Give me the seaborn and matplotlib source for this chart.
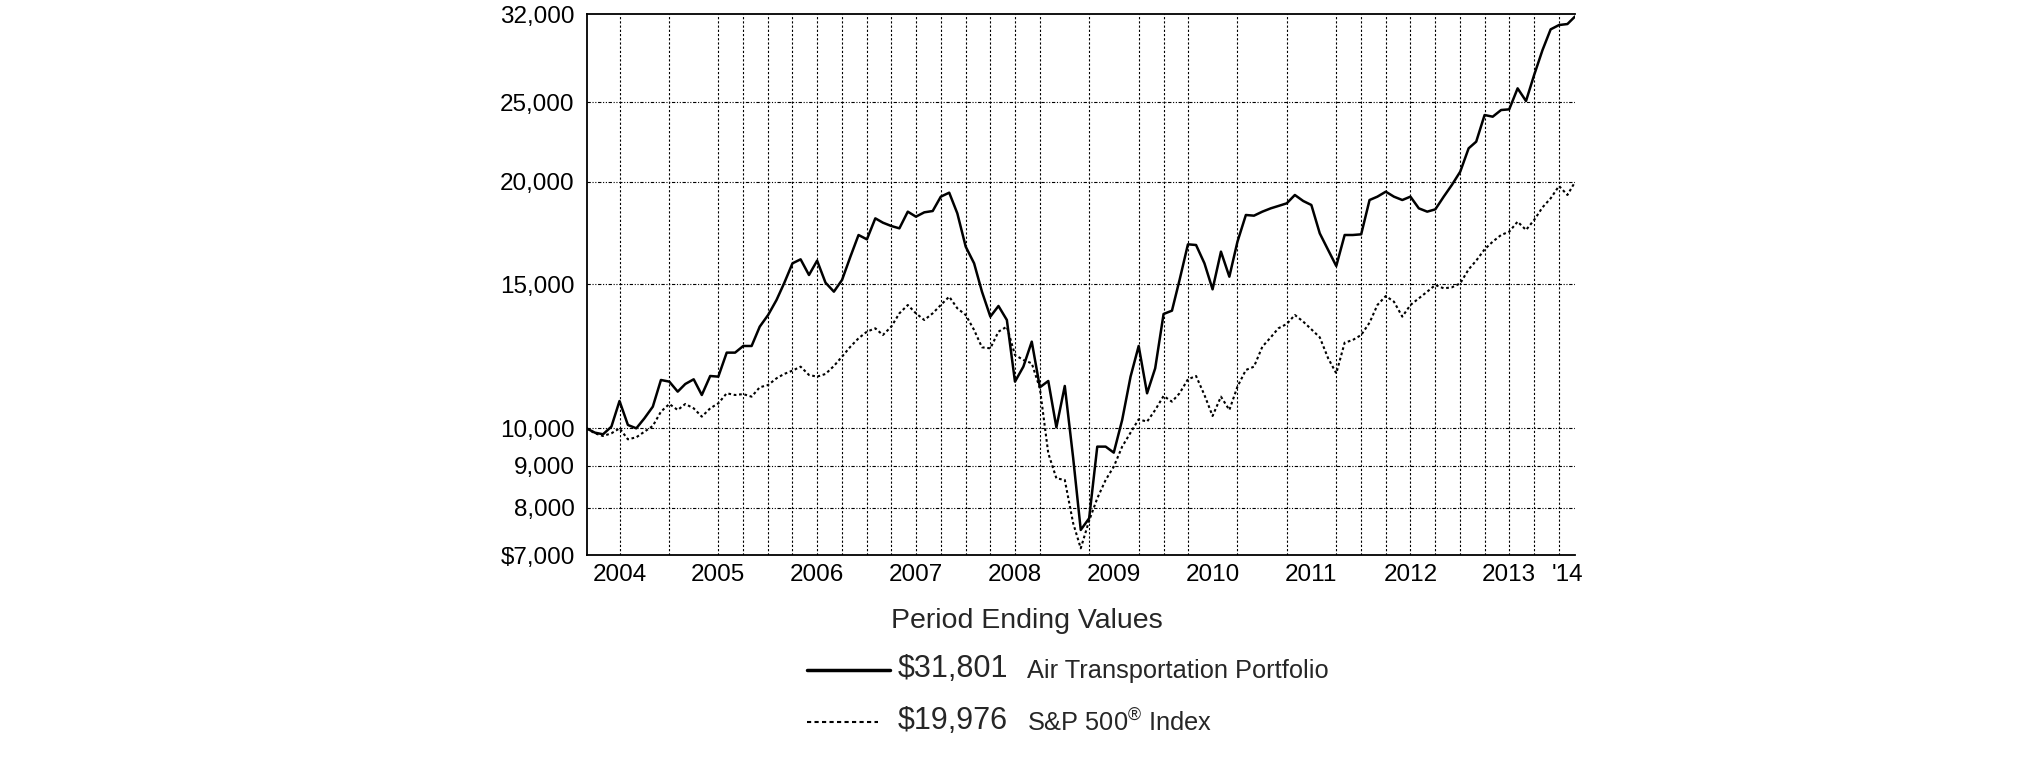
import pandas as pd
import matplotlib.pyplot as plt
from matplotlib.lines import Line2D
from matplotlib.ticker import FixedLocator, NullLocator
import seaborn as sns

# month-end values, Feb 2004 .. Feb 2014 (growth of $10,000)
months = pd.date_range("2004-02-29", periods=121, freq="ME")

portfolio = [
    10000, 9880, 9834, 10048, 10798, 10095, 10000, 10286, 10628, 11455, 11402,
    11086, 11327, 11477, 10982, 11584, 11563, 12370, 12370, 12603, 12603, 13306, 13750,
    14341, 15028, 15897, 16077, 15385, 16017, 15057, 14681, 15170, 16198, 17214, 17005,
    18039, 17821, 17655, 17539, 18381, 18124, 18346, 18414, 19172, 19388, 18294, 16659,
    15897, 14681, 13686, 14102, 13558, 11402, 11892, 12757, 11222, 11423, 10029, 11264,
    9200, 7517, 7767, 9499, 9499, 9340, 10237, 11563, 12603, 11035, 11837, 13788,
    13918, 15170, 16769, 16737, 15897, 14778, 16427, 15313, 16895, 18209, 18175, 18381,
    18553, 18676, 18816, 19262, 18939, 18728, 17295, 16504, 15778, 17214, 17214, 17247,
    18992, 19172, 19442, 19172, 18992, 19172, 18553, 18381, 18501, 19172, 19811, 20566,
    21959, 22374, 24114, 24001, 24455, 24501, 25990, 25081, 26982, 28945, 30674, 31050,
    31137, 31801,
]

sp500 = [
    10000, 9861, 9787, 9861, 10000, 9696, 9751, 9907, 10067, 10480, 10708,
    10529, 10708, 10578, 10334, 10578, 10728, 11035, 10982, 11010, 10931, 11222, 11295,
    11509, 11650, 11760, 11892, 11617, 11563, 11650, 11914, 12231, 12579, 12878, 13121,
    13244, 12998, 13306, 13814, 14141, 13814, 13558, 13814, 14141, 14476, 14010, 13750,
    13182, 12556, 12520, 13121, 13306, 12289, 12118, 12004, 11190, 9323, 8690, 8650,
    7659, 7139, 7716, 8215, 8650, 8980, 9499, 9880, 10257, 10190, 10529, 10952,
    10778, 11035, 11477, 11584, 10982, 10353, 10931, 10529, 11243, 11781, 11892, 12579,
    12914, 13244, 13406, 13750, 13495, 13207, 12914, 12175, 11671, 12721, 12817, 12998,
    13457, 14141, 14503, 14274, 13686, 14141, 14408, 14681, 14958, 14819, 14860, 15028,
    15632, 16017, 16535, 16895, 17214, 17376, 17872, 17459, 17954, 18605, 19081, 19755,
    19262, 19976,
]

year_ends = pd.to_datetime([f"{y}-12-31" for y in range(2004, 2014)])
year_labels = [str(y) for y in range(2004, 2014)] + ["'14"]
label_dates = pd.to_datetime([f"{y}-06-30" for y in range(2004, 2014)] + ["2014-01-31"])

grid_dates = pd.to_datetime([
    "2004-06-30", "2004-12-31", "2005-06-30", "2005-09-30", "2005-12-31",
    "2006-03-31", "2006-06-30", "2006-09-30", "2006-12-31",
    "2007-03-31", "2007-06-30", "2007-09-30", "2007-12-31",
    "2008-03-31", "2008-06-30", "2008-09-30",
    "2009-03-31", "2009-09-30", "2009-12-31",
    "2010-03-31", "2010-09-30",
    "2011-03-31", "2011-09-30", "2011-12-31",
    "2012-03-31", "2012-06-30", "2012-09-30", "2012-12-31",
    "2013-03-31", "2013-06-30", "2013-09-30", "2013-12-31",
])

y_ticks = [7000, 8000, 9000, 10000, 15000, 20000, 25000, 32000]
y_labels = ["$7,000", "8,000", "9,000", "10,000", "15,000", "20,000", "25,000", "32,000"]

sns.set_style("white")
plt.rcParams["font.family"] = ["Liberation Sans", "DejaVu Sans"]
plt.rcParams["mathtext.fontset"] = "custom"
plt.rcParams["mathtext.rm"] = "Liberation Sans"

W, H = 2025, 761
fig = plt.figure(figsize=(W / 100, H / 100), dpi=100)
ax = fig.add_axes([586.5 / W, 1 - 555.3 / H, (1575 - 586.5) / W, (555.3 - 14.3) / H])

sns.lineplot(x=months, y=portfolio, ax=ax, color="black", linewidth=1.8, zorder=4)
sns.lineplot(x=months, y=sp500, ax=ax, color="black", linewidth=1.5,
             linestyle=(0, (1.3, 1.3)), zorder=3)

ax.set_yscale("log")
ax.set_ylim(7000, 32000)
ax.set_xlim(months[0], months[-1])
ax.yaxis.set_major_locator(FixedLocator(y_ticks))
ax.yaxis.set_minor_locator(NullLocator())
ax.set_yticklabels(y_labels)

ax.set_xticks(year_ends)
ax.set_xticklabels([""] * len(year_ends))
ax.set_xticks(label_dates, minor=True)
ax.set_xticklabels(year_labels, minor=True)

# dotted grid
for v in y_ticks[1:-1]:
    ax.axhline(v, color="black", linewidth=0.8, linestyle=(0, (3, 1.5, 1, 1.5, 1, 1.5)), zorder=1)
for d in grid_dates:
    ax.axvline(d, color="black", linewidth=0.8, linestyle=(0, (2, 1.8)), zorder=1)

ax.set_xlabel("")
ax.set_ylabel("")
ax.spines["right"].set_visible(False)
for s in ["top", "left", "bottom"]:
    ax.spines[s].set_linewidth(1.3)
    ax.spines[s].set_color("black")

ax.tick_params(axis="y", which="major", direction="out", length=6.5, width=1.8,
               labelsize=17.5, pad=2, colors="black")
ax.tick_params(axis="x", which="major", direction="in", length=21, width=2.3, color="black")
ax.tick_params(axis="x", which="minor", length=0, labelsize=17.5, pad=6, labelcolor="black")

# legend block below the chart
def fx(x):
    return x / W

def fy(y):
    return 1 - y / H

fig.text(fx(891), fy(621), "Period Ending Values", fontsize=20.5, va="center", ha="left")
fig.add_artist(Line2D([fx(807), fx(890)], [fy(670), fy(670)], color="black", linewidth=2.5))
fig.text(fx(898), fy(669), "$31,801", fontsize=22, va="center", ha="left")
fig.text(fx(1027), fy(671), "Air Transportation Portfolio", fontsize=18.3, va="center", ha="left")
fig.add_artist(Line2D([fx(807), fx(878)], [fy(722), fy(722)], color="black", linewidth=1.5,
                      linestyle=(0, (2, 1.6))))
fig.text(fx(898), fy(721), "$19,976", fontsize=22, va="center", ha="left")
fig.text(fx(1027), fy(723), r"S&P 500$^{®}$ Index", fontsize=18.3, va="center", ha="left")

fig.savefig("out.png", dpi=100)
